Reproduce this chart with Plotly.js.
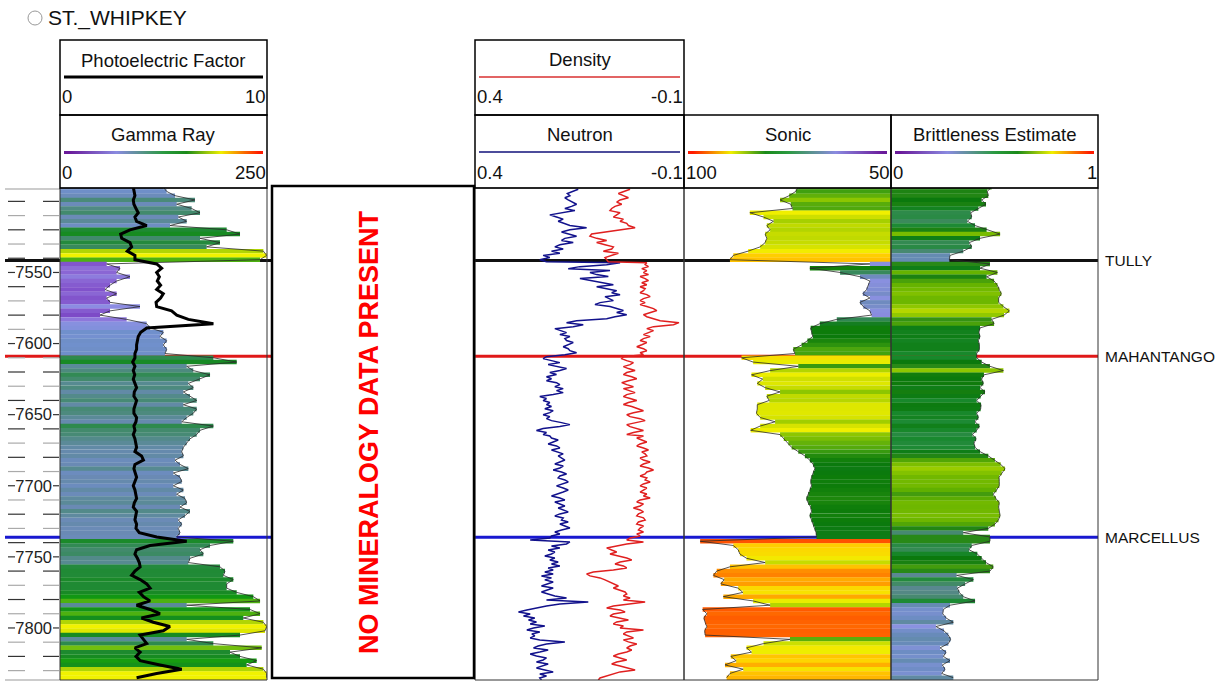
<!DOCTYPE html>
<html><head><meta charset="utf-8">
<script src="https://cdn.plot.ly/plotly-3.0.1.min.js"></script>
<style>html,body{margin:0;padding:0;background:#fff;}#chart{width:1224px;height:682px;}</style>
</head><body><div id="chart"></div>
<script>
// ---------------- data ----------------
// depth grid for the filled curves (gamma ray, PE, sonic, brittleness)
const depthFt = [7490,7493,7496,7499,7502,7505,7508,7511,7514,7517,
7520,7523,7526,7529,7532,7535,7538,7541,7544,7547,
7550,7553,7556,7559,7562,7565,7568,7571,7574,7577,
7580,7583,7586,7589,7592,7595,7598,7601,7604,7607,
7610,7613,7616,7619,7622,7625,7628,7631,7634,7637,
7640,7643,7646,7649,7652,7655,7658,7661,7664,7667,
7670,7673,7676,7679,7682,7685,7688,7691,7694,7697,
7700,7703,7706,7709,7712,7715,7718,7721,7724,7727,
7730,7733,7736,7739,7742,7745,7748,7751,7754,7757,
7760,7763,7766,7769,7772,7775,7778,7781,7784,7787,
7790,7793,7796,7799,7802,7805,7808,7811,7814,7817,
7820,7823,7826,7829,7832,7835];

const gammaRay = [124.8,128.8,138.9,163.0,140.9,159.0,169.1,142.9,153.0,132.9,
201.3,217.4,169.1,193.2,177.1,245.6,249.6,241.6,56.4,72.5,
68.4,84.5,68.4,60.4,54.4,68.4,56.4,60.4,96.6,60.4,
48.3,80.5,104.7,108.7,124.8,120.8,128.8,124.8,128.8,126.8,
185.2,213.4,153.0,161.0,181.2,169.1,155.0,161.0,149.0,157.0,
165.1,149.0,165.1,161.0,153.0,147.0,185.2,169.1,165.1,157.0,
153.0,149.0,147.0,149.0,138.9,144.9,155.0,136.9,144.9,147.0,
136.9,149.0,140.9,151.0,153.0,144.9,157.0,151.0,142.9,147.0,
142.9,144.9,140.9,209.3,181.2,169.1,173.1,157.0,155.0,193.2,
199.3,197.3,209.3,201.3,201.3,213.4,233.5,241.6,153.0,229.5,
241.6,221.4,245.6,249.6,247.6,217.4,153.0,185.2,243.6,205.3,
217.4,237.5,225.4,245.6,249.6,249.6];

const photoElectric = [3.54,3.57,3.62,3.54,3.57,3.67,3.78,3.62,3.70,4.19,
3.38,2.93,2.98,3.38,3.46,3.25,3.62,3.62,4.67,4.91,
4.67,4.80,4.70,4.86,4.67,4.99,4.86,4.64,4.67,5.39,
5.64,6.20,7.41,4.19,3.90,3.78,3.74,3.70,3.70,3.62,
3.62,3.51,3.62,3.54,3.61,3.54,3.62,3.70,3.59,3.57,
3.70,3.62,3.57,3.57,3.70,3.67,3.57,3.62,3.54,3.62,
3.67,3.70,3.62,3.94,4.03,3.62,3.57,3.62,3.70,3.62,
3.54,3.62,3.67,3.70,3.59,3.54,3.70,3.67,3.62,3.70,
3.67,3.83,4.67,6.12,4.35,3.70,3.62,3.74,3.83,3.87,
3.62,3.46,3.87,4.19,4.35,3.83,4.03,4.35,3.70,4.35,
4.83,3.94,4.51,5.31,4.99,3.87,4.03,4.19,3.62,3.87,
3.67,3.87,4.83,5.88,4.67,3.70];

const sonic = [72.4,73.0,74.6,76.8,74.2,73.8,84.1,80.8,78.4,80.0,
79.2,80.4,80.0,80.4,81.6,84.5,88.1,88.9,55.1,69.6,
62.3,57.5,55.1,55.5,55.9,56.8,55.1,57.5,56.7,55.1,
54.7,63.1,67.2,69.4,69.2,68.9,70.2,71.6,73.6,73.2,
86.1,83.3,72.4,79.2,83.7,81.0,82.3,80.4,76.8,80.0,
79.4,82.3,82.3,82.5,81.6,78.0,81.6,83.9,76.8,75.9,
74.8,74.0,72.4,70.8,69.6,68.8,68.4,68.8,69.2,69.4,
69.2,69.6,70.0,70.4,70.0,69.4,69.2,69.6,69.2,68.8,
68.4,68.1,68.0,96.1,88.1,86.9,86.5,84.9,80.4,88.9,
92.1,92.9,90.3,91.1,86.9,85.8,90.5,83.3,79.2,95.5,
94.5,95.2,94.9,94.5,95.0,94.9,74.4,80.8,84.9,83.7,
88.7,87.4,90.1,85.7,88.9,89.7];

const brittleness = [0.486,0.465,0.470,0.438,0.459,0.422,0.385,0.390,0.369,0.406,
0.462,0.527,0.430,0.378,0.390,0.349,0.285,0.282,0.478,0.430,
0.514,0.462,0.498,0.514,0.523,0.533,0.520,0.520,0.543,0.572,
0.546,0.486,0.498,0.430,0.425,0.430,0.422,0.427,0.427,0.414,
0.414,0.438,0.478,0.543,0.449,0.438,0.446,0.430,0.454,0.433,
0.414,0.435,0.433,0.414,0.422,0.406,0.427,0.414,0.394,0.411,
0.401,0.406,0.430,0.470,0.502,0.530,0.551,0.535,0.522,0.523,
0.523,0.510,0.494,0.507,0.523,0.520,0.522,0.527,0.519,0.502,
0.470,0.349,0.478,0.478,0.390,0.377,0.417,0.438,0.459,0.494,
0.478,0.317,0.398,0.358,0.321,0.330,0.349,0.406,0.285,0.253,
0.250,0.266,0.301,0.217,0.256,0.277,0.288,0.277,0.237,0.266,
0.253,0.285,0.248,0.261,0.245,0.301];

// finer depth grid for the neutron / density porosity curves
const ndDepth = [7491.5,7493.0,7494.5,7496.0,7497.5,7499.0,7500.5,7502.0,7503.5,7505.0,
7506.5,7508.0,7509.5,7511.0,7512.5,7514.0,7515.5,7517.0,7518.5,7520.0,
7521.5,7523.0,7524.5,7526.0,7527.5,7529.0,7530.5,7532.0,7533.5,7535.0,
7536.5,7538.0,7539.5,7541.0,7542.5,7543.1,
7544.5,7545.9,7547.3,7548.7,7550.1,7551.5,7552.9,7554.3,7555.7,7557.2,
7558.6,7560.0,7561.4,7562.8,7564.2,7565.6,7567.0,7568.4,7569.8,7571.2,
7572.6,7574.0,7575.4,7576.8,7578.2,7579.7,7581.1,7582.5,7583.9,7585.3,
7586.7,7588.1,7589.5,7590.9,7592.3,7593.7,7595.1,7596.5,7597.9,7599.3,
7600.8,7602.2,7603.6,7605.0,7606.4,7607.8,7609.2,7610.6,7612.0,7613.4,
7614.8,7616.2,7617.6,7619.0,7620.4,7621.8,7623.3,7624.7,7626.1,7627.5,
7628.9,7630.3,7631.7,7633.1,7634.5,7635.9,7637.3,7638.7,7640.1,7641.5,
7642.9,7644.3,7645.8,7647.2,7648.6,7650.0,7651.4,7652.8,7654.2,7655.6,
7657.0,7658.4,7659.8,7661.2,7662.6,7664.0,
7665.0,7666.4,7667.8,7669.2,7670.6,7672.0,7673.4,7674.8,7676.2,7677.6,
7679.0,7680.5,7681.9,7683.3,7684.7,7686.1,7687.5,7688.9,7690.3,7691.7,
7693.1,7694.5,7695.9,7697.3,7698.7,7700.1,7701.6,7703.0,7704.4,7705.8,
7707.2,7708.6,7710.0,7711.4,7712.8,7714.2,7715.6,7717.0,7718.4,7719.8,
7721.2,7722.6,7724.1,7725.5,7726.9,7728.3,7729.7,7731.1,7732.5,7733.9,
7735.3,7736.7,7738.1,7739.5,7740.9,7742.3,7743.7,7745.2,7746.6,7748.0,
7749.4,7750.8,7752.2,7753.6,7755.0,7756.4,7757.8,7759.2,7760.6,7762.0,
7763.4,7764.8,7766.2,7767.7,7769.1,7770.5,7771.9,7773.3,7774.7,7776.1,
7777.5,7778.9,7780.3,7781.7,7783.1,7784.5,7785.9,7787.3,7788.8,7790.2,
7791.6,7793.0,7794.4,7795.8,7797.2,7798.6,7800.0,7801.4,7802.8,7804.2,
7805.6,7807.0,7808.4,7809.8,7811.3,7812.7,7814.1,7815.5,7816.9,7818.3,
7819.7,7821.1,7822.5,7823.9,7825.3,7826.7,7828.1,7829.5,7830.9,7832.4,
7833.8,7835.2,7836.6];

const neutron = [0.153,0.165,0.179,0.173,0.185,0.177,0.165,0.157,0.169,0.185,
0.161,0.189,0.221,0.205,0.189,0.201,0.185,0.173,0.133,0.173,
0.193,0.177,0.157,0.185,0.193,0.165,0.197,0.209,0.189,0.217,
0.197,0.237,0.221,0.245,0.229,0.053,
0.085,0.149,0.177,0.077,0.125,0.109,0.081,0.149,0.125,0.093,
0.069,0.109,0.085,0.061,0.073,0.053,0.089,0.077,0.069,0.101,
0.113,0.077,0.061,0.045,0.061,0.037,0.065,0.085,0.157,0.181,
0.141,0.165,0.209,0.193,0.181,0.197,0.173,0.185,0.181,0.165,
0.177,0.189,0.177,0.173,0.157,0.185,0.229,0.237,0.217,0.197,
0.225,0.205,0.181,0.197,0.221,0.205,0.229,0.217,0.229,0.205,
0.197,0.209,0.189,0.205,0.189,0.213,0.245,0.229,0.237,0.221,
0.229,0.217,0.233,0.213,0.221,0.237,0.221,0.229,0.217,0.193,
0.173,0.197,0.237,0.253,0.229,0.237,
0.221,0.217,0.201,0.213,0.225,0.205,0.197,0.217,0.205,0.189,
0.201,0.193,0.185,0.197,0.209,0.189,0.197,0.213,0.193,0.181,
0.197,0.201,0.185,0.177,0.193,0.205,0.189,0.177,0.189,0.201,
0.217,0.197,0.185,0.209,0.197,0.185,0.201,0.189,0.177,0.197,
0.209,0.189,0.193,0.177,0.197,0.185,0.173,0.193,0.209,0.197,
0.217,0.221,0.268,0.173,0.181,0.217,0.197,0.225,0.209,0.217,
0.233,0.209,0.221,0.201,0.217,0.197,0.225,0.213,0.233,0.213,
0.241,0.217,0.233,0.213,0.229,0.241,0.213,0.229,0.241,0.225,
0.209,0.181,0.229,0.129,0.197,0.229,0.257,0.276,0.296,0.268,
0.284,0.257,0.272,0.253,0.268,0.233,0.260,0.276,0.245,0.264,
0.257,0.268,0.245,0.185,0.229,0.249,0.260,0.225,0.245,0.268,
0.253,0.229,0.237,0.253,0.225,0.241,0.253,0.233,0.213,0.245,
0.229,0.245,0.241];

const density = [0.029,0.045,0.057,0.045,0.033,0.053,0.061,0.049,0.065,0.073,
0.077,0.053,0.061,0.069,0.045,0.053,0.037,0.033,0.017,0.053,
0.085,0.121,0.125,0.109,0.085,0.109,0.089,0.069,0.073,0.093,
0.057,0.073,0.089,0.085,0.081,-0.011,
-0.007,-0.015,0.001,-0.011,-0.003,-0.015,0.005,-0.007,-0.015,0.001,
-0.011,0.005,-0.007,-0.003,0.005,-0.011,-0.019,-0.003,0.005,-0.007,
0.005,-0.011,-0.027,-0.035,-0.019,-0.003,-0.011,-0.027,-0.043,-0.088,
-0.075,-0.027,-0.011,-0.027,-0.015,-0.003,-0.019,-0.003,0.005,-0.011,
0.001,0.013,-0.003,-0.011,0.005,-0.003,0.045,0.049,0.037,0.021,
0.029,0.045,0.033,0.017,0.037,0.045,0.025,0.013,0.033,0.049,
0.037,0.021,0.045,0.033,0.017,0.037,0.045,0.029,0.013,0.033,
0.045,0.025,0.009,-0.003,0.021,0.037,0.029,0.005,-0.007,0.013,
0.037,0.029,0.013,-0.003,0.021,0.037,
-0.003,0.013,0.001,-0.011,0.005,0.013,-0.003,-0.015,0.001,-0.007,
-0.011,0.005,-0.003,-0.019,-0.003,0.005,-0.015,-0.027,-0.011,-0.007,
0.005,-0.011,-0.007,-0.019,-0.003,0.005,-0.011,-0.003,0.005,-0.011,
-0.003,-0.019,0.005,0.013,-0.003,0.005,0.021,0.005,-0.003,0.009,
0.013,-0.003,-0.007,0.009,0.013,-0.003,0.005,0.009,-0.003,0.013,
0.005,0.029,0.037,-0.003,0.037,0.061,0.085,0.073,0.061,0.077,
0.053,0.037,0.025,0.053,0.065,0.045,0.037,0.069,0.117,0.133,
0.125,0.101,0.089,0.077,0.065,0.057,0.069,0.053,0.041,0.037,
0.045,0.029,0.045,-0.007,0.029,0.069,0.085,0.053,0.041,0.069,
0.077,0.053,0.033,0.061,0.069,0.045,0.053,-0.003,0.037,0.045,
0.033,0.021,0.045,0.033,0.013,0.029,0.037,0.025,0.037,0.057,
0.069,0.053,0.037,0.061,0.073,0.053,0.037,0.017,0.053,0.069,
0.085,0.101,0.105];

const formationNames = ['TULLY', 'MAHANTANGO', 'MARCELLUS'];
const formationDepths = [7541.5, 7609, 7736.2];
const formationColors = ['#111111', '#e01818', '#1818d0'];

const depthTickVals = [7550, 7600, 7650, 7700, 7750, 7800];
const depthTickText = ['7550', '7600', '7650', '7700', '7750', '7800'];
const gradSteps = [0,1,2,3,4,5,6,7,8,9,10,11,12,13,14,15,16,17,18,19,20];

// ---------------- layout helpers ----------------
const W = 1224, H = 682;
const px = x => x / W;
const py = y => 1 - y / H;
const SANS = "'Liberation Sans', Arial, sans-serif";

const grScale = [[0,'#6a2aa0'],[0.167,'#7e4cc8'],[0.25,'#8e70d8'],[0.333,'#8c90e4'],[0.417,'#7090cc'],
  [0.483,'#6a8ab4'],[0.533,'#4e8a80'],[0.583,'#3a8a60'],[0.65,'#228a3a'],[0.72,'#178a22'],
  [0.79,'#109a10'],[0.81,'#60b810'],[0.823,'#d8e400'],[0.833,'#f4f400'],[0.9,'#ffb000'],[1,'#ff3000']];
const sonicScale = [[0,'#7a50c8'],[0.1,'#8a90e0'],[0.16,'#6a8ab8'],[0.24,'#3a8a60'],[0.32,'#1a8030'],
  [0.38,'#0a7a0a'],[0.46,'#40a010'],[0.54,'#90c800'],[0.62,'#d0e000'],[0.68,'#f0f000'],
  [0.76,'#ffd000'],[0.82,'#ffa000'],[0.9,'#ff6000'],[1,'#ff2000']];
const britScale = [[0,'#6a2aa0'],[0.15,'#8a70d8'],[0.22,'#8a94e0'],[0.27,'#6a8cc0'],[0.32,'#5a8890'],
  [0.37,'#3a8a5a'],[0.41,'#1a8a30'],[0.44,'#0a780a'],[0.48,'#2a8a18'],[0.51,'#60b000'],
  [0.55,'#98cc00'],[0.60,'#d8e400'],[0.65,'#f4f400'],[0.8,'#ffa000'],[1,'#ff2000']];
const headUp = [[0,'#6a1a9a'],[0.25,'#8a8ae0'],[0.5,'#2a9a40'],[0.62,'#1a8a1a'],[0.8,'#f0f000'],[1,'#ff1a00']];
const headDown = [[0,'#ff1a00'],[0.2,'#f0f000'],[0.38,'#1a8a1a'],[0.5,'#2a9a40'],[0.75,'#8a8ae0'],[1,'#6a1a9a']];

const BARW = 3.15;
const traces = [
  {type:'bar', orientation:'h', y:depthFt, x:gammaRay, base:0, width:BARW, xaxis:'x', yaxis:'y',
   marker:{color:gammaRay, colorscale:grScale, cmin:0, cmax:300, line:{width:0}}, hoverinfo:'skip'},
  {type:'scatter', mode:'lines', y:depthFt, x:gammaRay, xaxis:'x', yaxis:'y',
   line:{color:'#2a2a2a', width:0.8}, hoverinfo:'skip'},
  {type:'scatter', mode:'lines', y:depthFt, x:photoElectric, xaxis:'x2', yaxis:'y',
   line:{color:'#000000', width:3}, hoverinfo:'skip'},
  {type:'scatter', mode:'lines', y:ndDepth, x:neutron, xaxis:'x3', yaxis:'y',
   line:{color:'#12128c', width:1.5}, hoverinfo:'skip'},
  {type:'scatter', mode:'lines', y:ndDepth, x:density, xaxis:'x4', yaxis:'y',
   line:{color:'#e02020', width:1.5}, hoverinfo:'skip'},
  {type:'bar', orientation:'h', y:depthFt, x:sonic.map(v => v - 50), base:50, width:BARW, xaxis:'x5', yaxis:'y',
   marker:{color:sonic, colorscale:sonicScale, cmin:50, cmax:100, line:{width:0}}, hoverinfo:'skip'},
  {type:'scatter', mode:'lines', y:depthFt, x:sonic, xaxis:'x5', yaxis:'y',
   line:{color:'#2a2a2a', width:0.8}, hoverinfo:'skip'},
  {type:'bar', orientation:'h', y:depthFt, x:brittleness, base:0, width:BARW, xaxis:'x6', yaxis:'y',
   marker:{color:brittleness, colorscale:britScale, cmin:0, cmax:1, line:{width:0}}, hoverinfo:'skip'},
  {type:'scatter', mode:'lines', y:depthFt, x:brittleness, xaxis:'x6', yaxis:'y',
   line:{color:'#2a2a2a', width:0.8}, hoverinfo:'skip'},
  {type:'heatmap', z:[gradSteps], colorscale:headUp, showscale:false, zsmooth:'best', xaxis:'x7', yaxis:'y2', hoverinfo:'skip'},
  {type:'heatmap', z:[gradSteps], colorscale:headDown, showscale:false, zsmooth:'best', xaxis:'x8', yaxis:'y3', hoverinfo:'skip'},
  {type:'heatmap', z:[gradSteps], colorscale:headUp, showscale:false, zsmooth:'best', xaxis:'x9', yaxis:'y4', hoverinfo:'skip'}
];

// ---------------- shapes ----------------
const shapes = [];
function rect(x0, y0, x1, y1, color, width, fill, layer) {
  shapes.push({type:'rect', xref:'paper', yref:'paper', x0:px(x0), x1:px(x1), y0:py(y1), y1:py(y0),
    line:{color:color, width:width}, fillcolor:fill || 'rgba(0,0,0,0)', layer:layer || 'above'});
}
function hline(x0, x1, y, color, width, layer) {
  shapes.push({type:'line', xref:'paper', yref:'paper', x0:px(x0), x1:px(x1), y0:py(y), y1:py(y),
    line:{color:color, width:width}, layer:layer || 'above'});
}
function dline(x0, x1, d, color, width, layer) {
  shapes.push({type:'line', xref:'paper', yref:'y', x0:px(x0), x1:px(x1), y0:d, y1:d,
    line:{color:color, width:width}, layer:layer || 'above'});
}

// formation tops (under the fills, not through the mineralogy box)
formationDepths.forEach((d, i) => {
  dline(5, 272, d, formationColors[i], 3, 'below');
  dline(474, 1098, d, formationColors[i], 3, 'below');
});

// depth track ticks
for (let d = 7500; d <= 7830; d += 10) {
  if (d % 50 === 0 && d !== 7500) {
    dline(8, 15, d, '#333', 1.2);
    dline(53, 59, d, '#333', 1.2);
  } else {
    const c = d % 20 === 0 ? '#333' : '#aaa';
    dline(8, 25, d, c, 1.2);
    dline(43, 59, d, c, 1.2);
  }
}
hline(5, 60, 189, '#999', 1);
hline(5, 60, 680, '#999', 1);

// data track borders
rect(60, 188, 267, 680, '#333', 1);
rect(475, 188, 684, 680, '#333', 1);
rect(684, 188, 891, 680, '#333', 1);
rect(891, 188, 1098, 680, '#333', 1);
rect(272, 186, 474, 678, '#000', 2.5, '#ffffff');

// headers
rect(60, 40, 267, 115, '#000', 1.5);
rect(60, 115, 267, 188, '#000', 1.5);
rect(475, 40, 684, 115, '#000', 1.5);
rect(475, 115, 684, 188, '#000', 1.5);
rect(684, 115, 891, 188, '#000', 1.5);
rect(891, 115, 1098, 188, '#000', 1.5);
hline(64, 263, 77, '#000', 3);
hline(479, 680, 77, '#d83030', 1.5);
hline(479, 680, 152, '#10107a', 1.5);

// title marker
shapes.push({type:'circle', xref:'paper', yref:'paper', x0:px(28), x1:px(42), y0:py(25), y1:py(11),
  line:{color:'#999', width:1}});

// ---------------- annotations ----------------
const annotations = [];
function txt(text, x, y, anchor, size) {
  annotations.push({text:text, x:px(x), y:py(y), xref:'paper', yref:'paper', showarrow:false,
    xanchor:anchor, yanchor:'middle', font:{family:SANS, size:size, color:'#111'}});
}
txt('Photoelectric Factor', 163.5, 60, 'center', 18.5);
txt('0', 60, 97, 'left', 18.5); txt('10', 268, 97, 'right', 18.5);
txt('Gamma Ray', 163.5, 134, 'center', 18.5);
txt('0', 60, 172, 'left', 18.5); txt('250', 268, 172, 'right', 18.5);
txt('Density', 579.5, 59, 'center', 18.5);
txt('0.4', 475, 97, 'left', 18.5); txt('-0.1', 685, 97, 'right', 18.5);
txt('Neutron', 579.5, 134, 'center', 18.5);
txt('0.4', 475, 172, 'left', 18.5); txt('-0.1', 685, 172, 'right', 18.5);
txt('Sonic', 787.5, 134, 'center', 18.5);
txt('100', 684, 172, 'left', 18.5); txt('50', 892, 172, 'right', 18.5);
txt('Brittleness Estimate', 994.5, 134, 'center', 18.5);
txt('0', 891, 172, 'left', 18.5); txt('1', 1099, 172, 'right', 18.5);
formationNames.forEach((n, i) => {
  annotations.push({text:n, x:px(1103), y:formationDepths[i], xref:'paper', yref:'y', showarrow:false,
    xanchor:'left', yanchor:'middle', font:{family:SANS, size:15.5, color:'#111'}});
});
annotations.push({text:'<b>NO MINERALOGY DATA PRESENT</b>', x:px(369), y:py(432), xref:'paper', yref:'paper',
  showarrow:false, textangle:-90, xanchor:'center', yanchor:'middle',
  font:{family:SANS, size:27, color:'#ff0000'}});

// ---------------- layout ----------------
const hidden = {visible:false, fixedrange:true};
const layout = {
  width:W, height:H, autosize:false,
  margin:{l:0, r:0, t:0, b:0, pad:0},
  paper_bgcolor:'#ffffff', plot_bgcolor:'rgba(0,0,0,0)',
  showlegend:false, hovermode:false, barmode:'overlay',
  title:{text:'ST._WHIPKEY', x:px(48), xanchor:'left', y:py(18), yanchor:'middle', xref:'paper',
    font:{family:SANS, size:21, color:'#111'}},
  xaxis: Object.assign({domain:[px(60), px(267)], range:[0, 250], anchor:'y'}, hidden),
  xaxis2: Object.assign({overlaying:'x', range:[0, 10], anchor:'y'}, hidden),
  xaxis3: Object.assign({domain:[px(475), px(684)], range:[0.4, -0.1], anchor:'y'}, hidden),
  xaxis4: Object.assign({overlaying:'x3', range:[0.4, -0.1], anchor:'y'}, hidden),
  xaxis5: Object.assign({domain:[px(684), px(891)], range:[100, 50], anchor:'y'}, hidden),
  xaxis6: Object.assign({domain:[px(891), px(1098)], range:[0, 1], anchor:'y'}, hidden),
  yaxis: {domain:[py(680), py(188)], range:[7836.6, 7490.6], anchor:'free', position:px(60),
    showgrid:false, zeroline:false, showline:false, ticks:'', tickmode:'array',
    tickvals:depthTickVals, ticktext:depthTickText, ticklabelstandoff:8,
    tickfont:{family:SANS, size:16.5, color:'#222'}, fixedrange:true},
  xaxis7: Object.assign({domain:[px(64), px(263)], anchor:'y2'}, hidden),
  yaxis2: Object.assign({domain:[py(154), py(151)], anchor:'x7'}, hidden),
  xaxis8: Object.assign({domain:[px(688), px(887)], anchor:'y3'}, hidden),
  yaxis3: Object.assign({domain:[py(154), py(151)], anchor:'x8'}, hidden),
  xaxis9: Object.assign({domain:[px(895), px(1094)], anchor:'y4'}, hidden),
  yaxis4: Object.assign({domain:[py(154), py(151)], anchor:'x9'}, hidden),
  shapes:shapes, annotations:annotations
};

Plotly.newPlot('chart', traces, layout, {displayModeBar:false, staticPlot:true});
</script>
</body></html>
